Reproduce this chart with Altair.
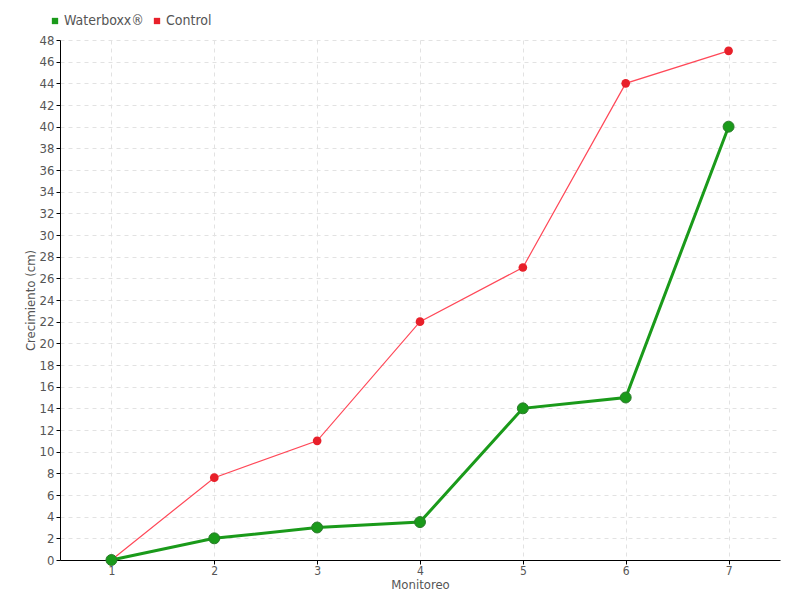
import altair as alt
import pandas as pd

monitoreo = [1, 2, 3, 4, 5, 6, 7]
waterboxx = [0, 2, 3, 3.5, 14, 15, 40]
control = [0, 7.6, 11, 22, 27, 44, 47]
series_names = ["Waterboxx®", "Control"]
colors = ["#1a9a1a", "#e8202a"]

rows = []
for m, w, c in zip(monitoreo, waterboxx, control):
    rows.append({"Monitoreo": m, "Serie": series_names[0], "Valor": w})
    rows.append({"Monitoreo": m, "Serie": series_names[1], "Valor": c})
df = pd.DataFrame(rows)

font = "DejaVu Sans Condensed, DejaVu Sans"

x = alt.X("Monitoreo:O", title="Monitoreo",
          scale=alt.Scale(paddingOuter=0.5),
          axis=alt.Axis(labelAngle=0, grid=True, gridDash=[4, 4], gridColor="#e2e2e2",
                        domainColor="#000", tickColor="#000", labelColor="#555",
                        titleColor="#555", labelFontSize=12, titleFontSize=13,
                        titleFontWeight="normal", labelFont=font, titleFont=font,
                        titlePadding=2, labelPadding=1, tickSize=4))
y = alt.Y("Valor:Q", title="Crecimiento (cm)",
          scale=alt.Scale(domain=[0, 48], nice=False),
          axis=alt.Axis(values=list(range(0, 49, 2)), grid=True, gridDash=[4, 4],
                        gridColor="#e2e2e2", domainColor="#000", tickColor="#000",
                        labelColor="#555", titleColor="#555", labelFontSize=13,
                        titleFontSize=13, titleFontWeight="normal", labelFont=font,
                        titleFont=font, titlePadding=2, tickSize=4, labelPadding=2))
color = alt.Color("Serie:N", scale=alt.Scale(domain=series_names, range=colors),
                  legend=alt.Legend(title=None, orient="none", legendX=-12, legendY=-26,
                                    direction="horizontal", symbolType="square",
                                    symbolSize=40, labelFontSize=14, labelColor="#555",
                                    labelFont=font, columnPadding=6, symbolOffset=0,
                                    labelOffset=2))

base = alt.Chart(df)

green_line = base.transform_filter(alt.datum.Serie == series_names[0]).mark_line(
    strokeWidth=3, color=colors[0]).encode(x=x, y=y)
green_pts = base.transform_filter(alt.datum.Serie == series_names[0]).mark_point(
    filled=True, size=120, opacity=1, stroke="#2a7a2a", strokeWidth=1).encode(x=x, y=y, color=color)
red_line = base.transform_filter(alt.datum.Serie == series_names[1]).mark_line(
    strokeWidth=1.2, color="#ff4858").encode(x=x, y=y)
red_pts = base.transform_filter(alt.datum.Serie == series_names[1]).mark_point(
    filled=True, size=75, opacity=1).encode(x=x, y=y, color=color)

chart = alt.layer(red_line, red_pts, green_line, green_pts).properties(
    width=720, height=520, autosize="none",
    padding={"left": 52, "top": 32, "right": 12, "bottom": 32}
).configure_view(stroke=None)

chart.save("out.html", embed_options={"renderer": "svg", "actions": False})
